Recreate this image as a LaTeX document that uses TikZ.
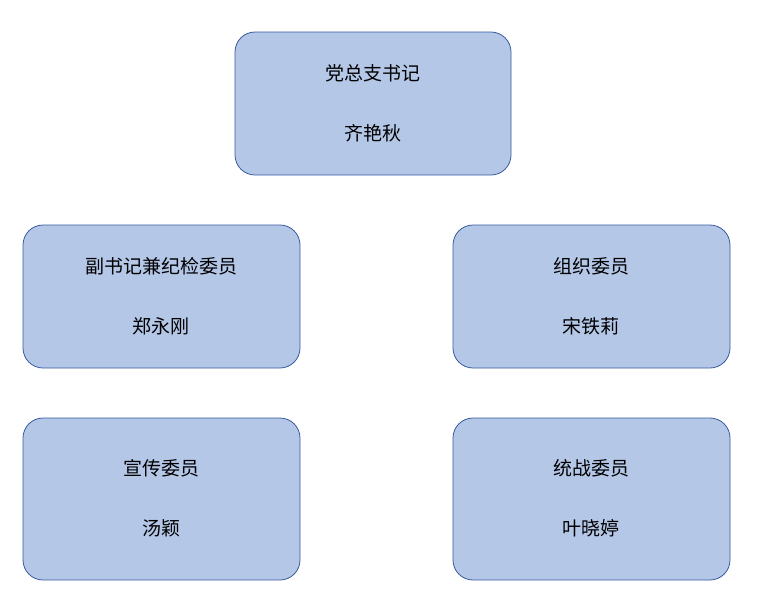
\documentclass[tikz,border=0pt]{standalone}
\usepackage{fontspec}
\newfontfamily\cjk{Noto Sans CJK SC}
\definecolor{boxfill}{HTML}{B4C7E7}
\definecolor{boxline}{HTML}{3A5A9F}
\begin{document}
\begin{tikzpicture}[x=1pt,y=-1pt,
  box/.style={draw=boxline,fill=boxfill,line width=0.8pt,rounded corners=20pt},
  lbl/.style={font=\cjk\fontsize{19}{22}\selectfont,text=black}]
\useasboundingbox (0,0) rectangle (757,611);
\draw[box] (235,32) rectangle (511,175);
\draw[box] (23,225) rectangle (300,368);
\draw[box] (453,225) rectangle (730,368);
\draw[box] (23,418) rectangle (300,580);
\draw[box] (453,418) rectangle (730,580);
\node[lbl] (a1) at (373,73) {党总支书记};
\node[lbl] (a2) at (373,133) {齐艳秋};
\node[lbl] (b1) at (161,266) {副书记兼纪检委员};
\node[lbl] (b2) at (161,326) {郑永刚};
\node[lbl] (c1) at (591,266) {组织委员};
\node[lbl] (c2) at (591,326) {宋铁莉};
\node[lbl] (d1) at (161,468) {宣传委员};
\node[lbl] (d2) at (161,528) {汤颖};
\node[lbl] (e1) at (591,468) {统战委员};
\node[lbl] (e2) at (591,528) {叶晓婷};
\end{tikzpicture}
\end{document}
